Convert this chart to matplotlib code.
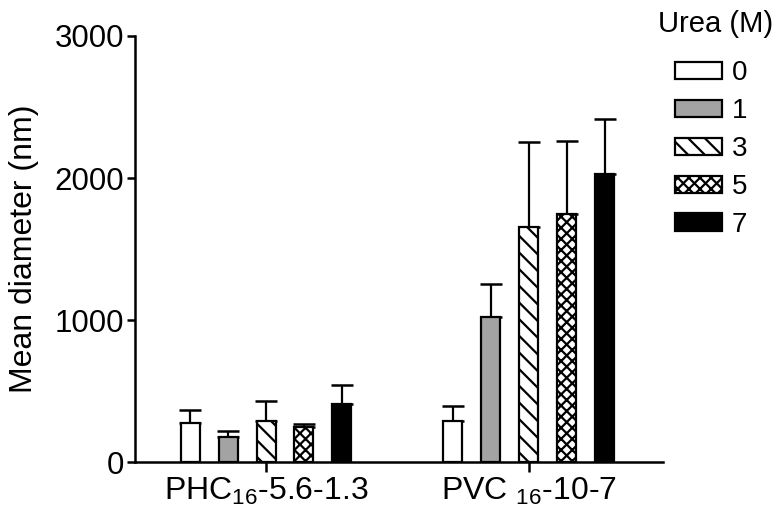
import matplotlib.pyplot as plt
import numpy as np
from matplotlib.patches import Patch

plt.rcParams['font.family'] = ['Liberation Sans', 'DejaVu Sans']
plt.rcParams['mathtext.fontset'] = 'custom'
plt.rcParams['mathtext.rm'] = 'Liberation Sans'
plt.rcParams['mathtext.it'] = 'Liberation Sans'
plt.rcParams['hatch.linewidth'] = 1.6

# Datos
grupos = ['PHC$_{16}$-5.6-1.3', 'PVC $_{16}$-10-7']
urea = ['0', '1', '3', '5', '7']
media = {
    '0': [275, 289],
    '1': [176, 1021],
    '3': [289, 1655],
    '5': [246, 1746],
    '7': [408, 2028],
}
error = {
    '0': [91, 105],
    '1': [42, 233],
    '3': [141, 599],
    '5': [22, 515],
    '7': [134, 387],
}

# Estilo de cada concentracion
relleno = ['white', '#a3a3a3', 'white', 'white', 'black']
tramas = ['', '', '\\\\', 'xxx', '']

centros = np.array([0, 6.92])
paso = 1.0
ancho = 0.5

fig = plt.figure(figsize=(7.77, 5.15), dpi=100)
ax = fig.add_axes([0.1737, 0.1029, 0.6795, 0.8272])

for i, u in enumerate(urea):
    x = centros + (i - 2) * paso
    ax.bar(x, media[u], width=ancho, color=relleno[i], edgecolor='black',
           linewidth=1.6, hatch=tramas[i], zorder=3,
           yerr=[np.zeros(2), error[u]],
           error_kw=dict(ecolor='black', elinewidth=1.6, capsize=8, capthick=1.8, zorder=2))

ax.set_xlim(-3.45, 10.45)
ax.set_ylim(0, 3000)
ax.set_yticks([0, 1000, 2000, 3000])
ax.set_xticks(centros)
ax.set_xticklabels(grupos, fontsize=23)
ax.tick_params(axis='y', labelsize=22.5, length=6, width=1.8, pad=2)
ax.tick_params(axis='x', length=7, width=1.8, pad=3)
ax.set_ylabel('Mean diameter (nm)', fontsize=23, labelpad=11)

for lado in ['top', 'right']:
    ax.spines[lado].set_visible(False)
for lado in ['left', 'bottom']:
    ax.spines[lado].set_linewidth(1.8)

# Leyenda
fig.text(0.847, 1 - 24 / 515, 'Urea (M)', fontsize=21, ha='left', va='center')
handles = [Patch(facecolor=relleno[i], edgecolor='black', linewidth=1.6, hatch=tramas[i])
           for i in range(len(urea))]
leg = fig.legend(handles, urea, loc='center left',
                 bbox_to_anchor=(0.8687, 1 - 149 / 515), frameon=False, fontsize=20,
                 handlelength=1.69, handleheight=0.58,
                 handletextpad=0.36, labelspacing=0.43, borderpad=0,
                 borderaxespad=0)

fig.savefig('out.png', dpi=100)
